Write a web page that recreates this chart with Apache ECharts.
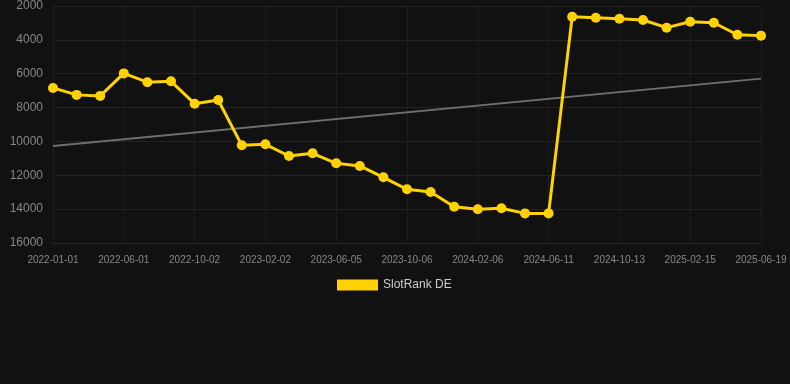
<!DOCTYPE html>
<html>
<head>
<meta charset="utf-8">
<script src="https://cdn.jsdelivr.net/npm/echarts@6/dist/echarts.min.js"></script>
<style>
html,body{margin:0;padding:0;background:#111111;}
#chart{width:790px;height:384px;}
</style>
</head>
<body>
<div id="chart"></div>
<script>
const categories = [
  '2022-01-01','2022-02-20','2022-04-12','2022-06-01','2022-07-13','2022-08-22',
  '2022-10-02','2022-11-12','2022-12-23','2023-02-02','2023-03-16','2023-04-25',
  '2023-06-05','2023-07-16','2023-08-26','2023-10-06','2023-11-16','2023-12-27',
  '2024-02-06','2024-03-18','2024-04-30','2024-06-11','2024-07-23','2024-09-01',
  '2024-10-13','2024-11-24','2025-01-04','2025-02-15','2025-03-29','2025-05-09',
  '2025-06-19'
];
const rankValues = [
  6840, 7250, 7310, 5980, 6500, 6450,
  7770, 7550, 10230, 10170, 10860, 10700,
  11290, 11450, 12120, 12830, 12990, 13860,
  14010, 13950, 14250, 14250, 2630, 2690,
  2750, 2830, 3280, 2930, 2990, 3700,
  3750
];
const trendEnds = [10270, 6290];
const seriesName = 'SlotRank DE';

const trendData = categories.map((c, i) =>
  i === 0 ? trendEnds[0] : (i === categories.length - 1 ? trendEnds[1] : '-'));

const chart = echarts.init(document.getElementById('chart'));
chart.setOption({
  backgroundColor: '#111111',
  animation: false,
  grid: { left: 53, right: 29, top: 6, bottom: 141 },
  legend: {
    data: [{ name: seriesName, icon: 'rect' }],
    top: 274,
    left: 332,
    itemWidth: 41,
    itemHeight: 11,
    itemGap: 6,
    textStyle: { color: '#cccccc', fontSize: 12, fontFamily: 'Arial, Liberation Sans, sans-serif' }
  },
  xAxis: {
    type: 'category',
    data: categories,
    boundaryGap: false,
    axisLine: { show: true, lineStyle: { color: '#2a2a2a' } },
    axisTick: { show: false },
    axisLabel: {
      interval: 2,
      color: '#888888',
      fontSize: 10,
      margin: 12,
      fontFamily: 'Arial, Liberation Sans, sans-serif'
    },
    splitLine: { show: true, interval: 2, lineStyle: { color: '#1e1e1e' } }
  },
  yAxis: {
    type: 'value',
    inverse: true,
    min: 2000,
    max: 16000,
    interval: 2000,
    axisLine: { show: false },
    axisTick: { show: false },
    axisLabel: {
      color: '#888888',
      fontSize: 12,
      margin: 10,
      formatter: v => String(v),
      fontFamily: 'Arial, Liberation Sans, sans-serif'
    },
    splitLine: { show: true, lineStyle: { color: '#222222' } }
  },
  series: [
    {
      name: 'trend',
      type: 'line',
      data: trendData,
      connectNulls: true,
      symbol: 'none',
      silent: true,
      lineStyle: { color: '#6e6e6e', width: 2 },
      z: 1
    },
    {
      name: seriesName,
      type: 'line',
      data: rankValues,
      symbol: 'circle',
      symbolSize: 10,
      itemStyle: { color: '#FFD200' },
      lineStyle: { color: '#FFD200', width: 3 },
      z: 2
    }
  ]
});
</script>
</body>
</html>
